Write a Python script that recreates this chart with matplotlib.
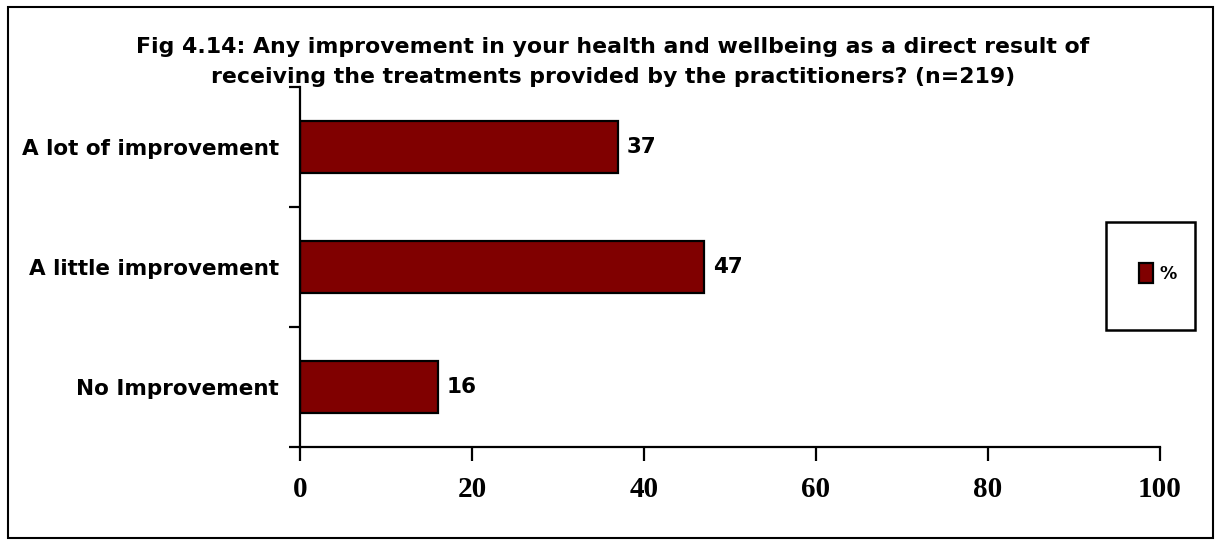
import matplotlib
matplotlib.use("Agg")
import matplotlib.pyplot as plt
from matplotlib.patches import Rectangle

categories = ["A lot of improvement", "A little improvement", "No Improvement"]
values = [37, 47, 16]
xticks = [0, 20, 40, 60, 80, 100]
series_name = "%"
title = ("Fig 4.14: Any improvement in your health and wellbeing as a direct result of\n"
         "receiving the treatments provided by the practitioners? (n=219)")

SANS = "DejaVu Sans"
SERIF = "Liberation Serif"

W, H = 1220, 541
fig = plt.figure(figsize=(W / 100, H / 100), dpi=100)
ax = fig.add_axes([300 / W, 1 - 447 / H, 860 / W, 360 / H])

n = len(categories)
pos = list(range(n))
bars = ax.barh(pos, values, height=0.43, color="#800000", edgecolor="black",
               linewidth=1.6, label=series_name)
ax.set_ylim(n - 0.5, -0.5)
ax.set_xlim(0, 100)

for p, v in zip(pos, values):
    ax.text(v + 1.0, p, f"{v}", va="center", ha="left",
            fontfamily=SANS, fontweight="bold", fontsize=15.5)

ax.set_yticks(pos)
ax.set_yticklabels(categories, fontfamily=SANS, fontweight="bold", fontsize=15.5)
ax.tick_params(axis="y", which="major", length=0, pad=15)
ax.set_yticks([i - 0.5 for i in range(n + 1)], minor=True)
ax.tick_params(axis="y", which="minor", length=8, width=1.6, direction="out")

ax.set_xticks(xticks)
ax.set_xticklabels([str(t) for t in xticks], fontfamily=SERIF,
                   fontweight="bold", fontsize=21)
ax.tick_params(axis="x", length=10, width=1.6, direction="out", pad=11)

for s in ["top", "right"]:
    ax.spines[s].set_visible(False)
for s in ["left", "bottom"]:
    ax.spines[s].set_linewidth(1.6)

fig.text(613 / W, 1 - 62 / H, title, ha="center", va="center",
         fontfamily=SANS, fontweight="bold", fontsize=15.8,
         linespacing=1.62)

# legend box
fig.patches.append(Rectangle((1106 / W, 1 - 330 / H), 89 / W, 108 / H,
                             transform=fig.transFigure, fill=False,
                             edgecolor="black", linewidth=1.8))
fig.legend(handles=[bars], labels=[series_name], loc="center",
           bbox_to_anchor=(1158 / W, 1 - 273 / H), frameon=False,
           prop={"family": SANS, "weight": "bold", "size": 12.5},
           handlelength=0.8, handleheight=1.4, handletextpad=0.35)

# outer border
fig.patches.append(Rectangle((8 / W, 1 - 538 / H), 1205 / W, 531 / H,
                             transform=fig.transFigure, fill=False,
                             edgecolor="black", linewidth=1.5))

fig.savefig("out.png", dpi=100)
